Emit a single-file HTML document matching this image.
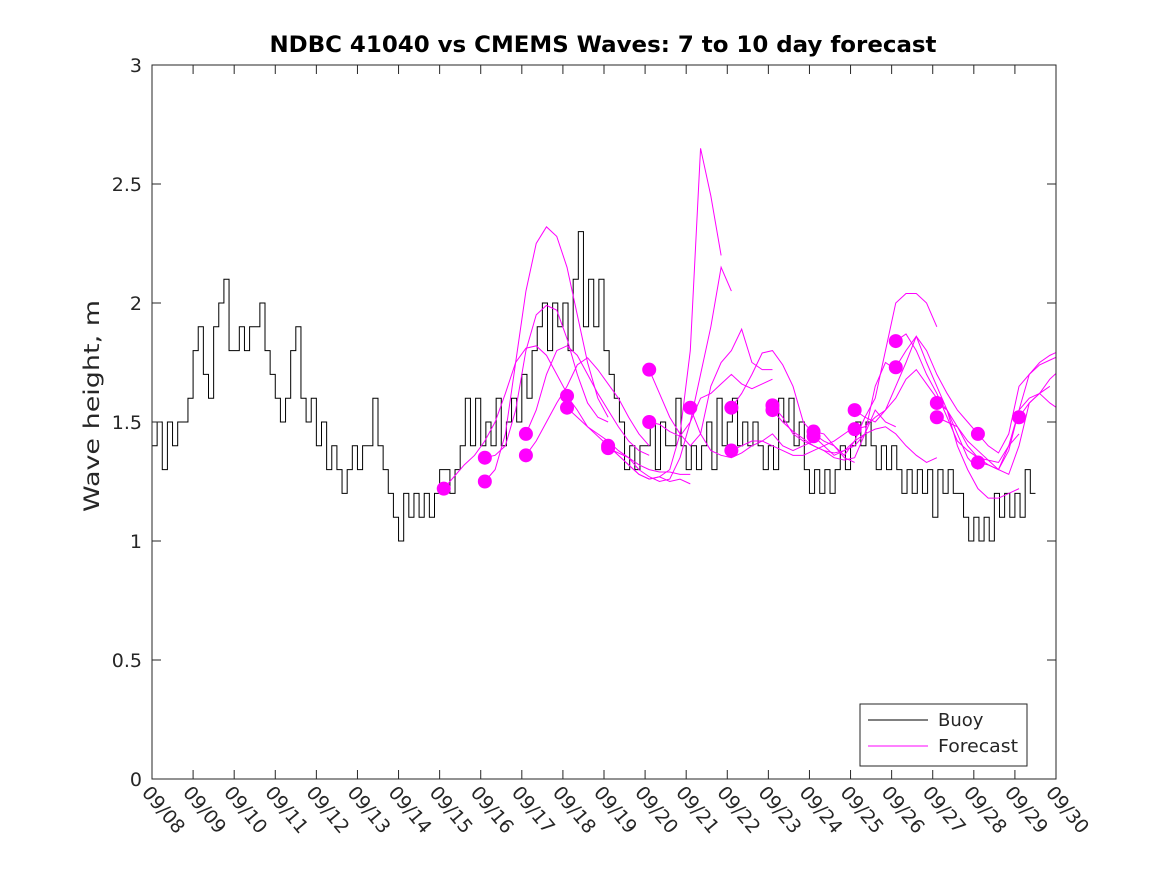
<!DOCTYPE html>
<html><head><meta charset="utf-8"><style>
body{margin:0;background:#fff;}
svg{font-family:"DejaVu Sans","Liberation Sans",sans-serif;}
</style></head><body>
<svg id="chart" width="1167" height="875" xmlns="http://www.w3.org/2000/svg">
<rect width="1167" height="875" fill="#fff"/>
<text x="603" y="52" text-anchor="middle" font-size="22" font-weight="bold" textLength="667" lengthAdjust="spacingAndGlyphs">NDBC 41040 vs CMEMS Waves: 7 to 10 day forecast</text>
<text transform="translate(99,406) rotate(-90)" text-anchor="middle" font-size="21" fill="#262626" textLength="212" lengthAdjust="spacingAndGlyphs">Wave height, m</text>
<defs><clipPath id="pc"><rect x="152" y="65" width="904" height="714"/></clipPath></defs>
<g id="plot" clip-path="url(#pc)"></g>
<g id="axes"></g>
<g>
<rect x="860" y="704" width="167" height="62" fill="#fff" stroke="#262626" stroke-width="1"/>
<line x1="868" y1="720" x2="928" y2="720" stroke="#000" stroke-width="1"/>
<text x="938" y="726" font-size="18" fill="#262626">Buoy</text>
<line x1="868" y1="746" x2="928" y2="746" stroke="#ff00ff" stroke-width="1"/>
<text x="938" y="752" font-size="18" fill="#262626" textLength="80" lengthAdjust="spacingAndGlyphs">Forecast</text>
</g>
</svg>
<script>
const xTickLabels=["09/08","09/09","09/10","09/11","09/12","09/13","09/14","09/15","09/16","09/17","09/18","09/19","09/20","09/21","09/22","09/23","09/24","09/25","09/26","09/27","09/28","09/29","09/30"];
const yTicks=[0,0.5,1,1.5,2,2.5,3];
const yTickLabels=["0","0.5","1","1.5","2","2.5","3"];
const buoyStep=0.125;
const buoy=[1.4,1.5,1.3,1.5,1.4,1.5,1.5,1.6,
1.8,1.9,1.7,1.6,1.9,2.0,2.1,1.8,
1.8,1.9,1.8,1.9,1.9,2.0,1.8,1.7,
1.6,1.5,1.6,1.8,1.9,1.6,1.5,1.6,
1.4,1.5,1.3,1.4,1.3,1.2,1.3,1.4,
1.3,1.4,1.4,1.6,1.4,1.3,1.2,1.1,
1.0,1.2,1.1,1.2,1.1,1.2,1.1,1.2,
1.3,1.3,1.2,1.3,1.4,1.6,1.4,1.6,
1.4,1.5,1.4,1.6,1.4,1.5,1.6,1.5,
1.7,1.6,1.8,1.9,2.0,1.8,2.0,1.9,
2.0,1.8,2.1,2.3,1.9,2.1,1.9,2.1,
1.8,1.7,1.6,1.5,1.3,1.4,1.3,1.4,
1.4,1.5,1.3,1.5,1.4,1.4,1.6,1.4,
1.3,1.4,1.3,1.4,1.5,1.3,1.6,1.4,
1.5,1.6,1.4,1.5,1.4,1.5,1.4,1.3,
1.4,1.3,1.6,1.5,1.6,1.4,1.5,1.3,
1.2,1.3,1.2,1.3,1.2,1.3,1.4,1.3,
1.4,1.5,1.4,1.5,1.4,1.3,1.4,1.3,
1.4,1.3,1.2,1.3,1.2,1.3,1.2,1.3,
1.1,1.3,1.2,1.3,1.2,1.2,1.1,1.0,
1.1,1.0,1.1,1.0,1.2,1.1,1.2,1.1,
1.2,1.1,1.3,1.2];
const fcStep=0.25;
const fcStarts=[7.1,8.1,8.1,9.1,9.1,10.1,10.1,11.1,11.1,12.1,12.1,13.1,14.1,14.1,15.1,15.1,16.1,16.1,17.1,17.1,18.1,18.1,19.1,19.1,20.1,20.1,21.1];
const fcValues=[
[1.22,1.27,1.32,1.36,1.42,1.50,1.62,1.75,1.81,1.82,1.78,1.70,1.62],
[1.25,1.30,1.45,1.75,2.05,2.25,2.32,2.28,2.15,1.95,1.75,1.60,1.52],
[1.35,1.36,1.40,1.55,1.80,1.95,1.99,1.97,1.85,1.70,1.58,1.52,1.50],
[1.45,1.55,1.70,1.80,1.82,1.78,1.70,1.62,1.55,1.48,1.42,1.38,1.36],
[1.36,1.42,1.50,1.58,1.65,1.74,1.77,1.72,1.66,1.60,1.52,1.45,1.40],
[1.61,1.55,1.48,1.45,1.42,1.38,1.35,1.32,1.30,1.29,1.29,1.28,1.28],
[1.56,1.52,1.48,1.44,1.40,1.36,1.32,1.28,1.26,1.27,1.25,1.26,1.24],
[1.40,1.36,1.32,1.28,1.26,1.27,1.30,1.45,1.80,2.65,2.45,2.20],
[1.39,1.37,1.35,1.30,1.27,1.25,1.26,1.35,1.50,1.70,1.90,2.15,2.05],
[1.72,1.62,1.52,1.45,1.40,1.45,1.65,1.75,1.80,1.89,1.75,1.72,1.72],
[1.50,1.49,1.46,1.44,1.50,1.60,1.62,1.66,1.70,1.66,1.64,1.66,1.68],
[1.56,1.45,1.38,1.36,1.35,1.37,1.40,1.42,1.45,1.40,1.38,1.40,1.42],
[1.56,1.62,1.70,1.79,1.80,1.74,1.65,1.50,1.45,1.42,1.40,1.35,1.33],
[1.38,1.40,1.42,1.42,1.40,1.38,1.36,1.36,1.38,1.40,1.42,1.45,1.48],
[1.57,1.52,1.45,1.42,1.40,1.38,1.35,1.34,1.35,1.45,1.65,1.75,1.72],
[1.55,1.50,1.46,1.43,1.40,1.38,1.37,1.38,1.40,1.45,1.55,1.50,1.48],
[1.46,1.45,1.40,1.36,1.42,1.52,1.60,1.80,2.00,2.04,2.04,2.00,1.90],
[1.44,1.40,1.36,1.38,1.42,1.45,1.47,1.48,1.45,1.40,1.36,1.33,1.35],
[1.55,1.52,1.50,1.55,1.65,1.75,1.86,1.80,1.70,1.62,1.55,1.50,1.45],
[1.47,1.48,1.52,1.55,1.60,1.68,1.72,1.66,1.60,1.55,1.45,1.35,1.30],
[1.84,1.87,1.80,1.70,1.62,1.52,1.42,1.38,1.35,1.34,1.33,1.40,1.45],
[1.73,1.80,1.86,1.75,1.65,1.55,1.40,1.30,1.22,1.18,1.18,1.20,1.22],
[1.58,1.55,1.48,1.40,1.35,1.32,1.30,1.38,1.55,1.70,1.75,1.78,1.80],
[1.52,1.50,1.48,1.42,1.38,1.34,1.30,1.28,1.40,1.58,1.62,1.68,1.72],
[1.45,1.40,1.37,1.45,1.65,1.70,1.74,1.76,1.78,1.81],
[1.33,1.32,1.30,1.40,1.55,1.60,1.62,1.58,1.55],
[1.52,1.58,1.62,1.65]];

const NS="http://www.w3.org/2000/svg";
const X0=152,X1=1056,Y0=779,Y1=65,DAYS=22,YMAX=3;
function xs(d){return X0+(X1-X0)*d/DAYS;}
function ys(v){return Y0-(Y0-Y1)*v/YMAX;}
function mk(tag,attrs,parent){const e=document.createElementNS(NS,tag);for(const k in attrs)e.setAttribute(k,attrs[k]);parent.appendChild(e);return e;}
const plot=document.getElementById('plot'),axes=document.getElementById('axes');

let d="";
buoy.forEach((v,i)=>{const x=xs(i*buoyStep),y=ys(v);d+=(i?"L"+x+","+y:"M"+x+","+y)+"L"+xs((i+1)*buoyStep)+","+y;});
const bl=mk('path',{d:d,fill:'none',stroke:'#000','stroke-width':1},plot);



fcValues.forEach((arr,j)=>{
  const pts=arr.map((v,i)=>xs(fcStarts[j]+i*fcStep)+","+ys(v)).join(" ");
  const pl=mk('polyline',{points:pts,fill:'none',stroke:'#ff00ff','stroke-width':1},plot);
  
  
});
fcValues.forEach((arr,j)=>{
  const c=mk('circle',{cx:xs(fcStarts[j]),cy:ys(arr[0]),r:7,fill:'#ff00ff'},plot);
  
  
});

const box=mk('rect',{x:X0,y:Y1,width:X1-X0,height:Y0-Y1,fill:'none',stroke:'#262626','stroke-width':1},axes);


yTicks.forEach((t,i)=>{
  const y=ys(t);
  mk('line',{x1:X0,y1:y,x2:X0+9,y2:y,stroke:'#262626'},axes);
  mk('line',{x1:X1,y1:y,x2:X1-9,y2:y,stroke:'#262626'},axes);
  const tx=mk('text',{x:X0-10,y:y+7,'text-anchor':'end','font-size':19,fill:'#262626'},axes);
  tx.textContent=yTickLabels[i];
  
  
});
xTickLabels.forEach((lab,i)=>{
  const x=xs(i);
  mk('line',{x1:x,y1:Y0,x2:x,y2:Y0-9,stroke:'#262626'},axes);
  mk('line',{x1:x,y1:Y1,x2:x,y2:Y1+9,stroke:'#262626'},axes);
  const tx=mk('text',{transform:`translate(${x-11},${Y0+14}) rotate(50)`,'font-size':19,fill:'#262626'},axes);
  tx.textContent=lab;
  
  
});
</script>
</body></html>
